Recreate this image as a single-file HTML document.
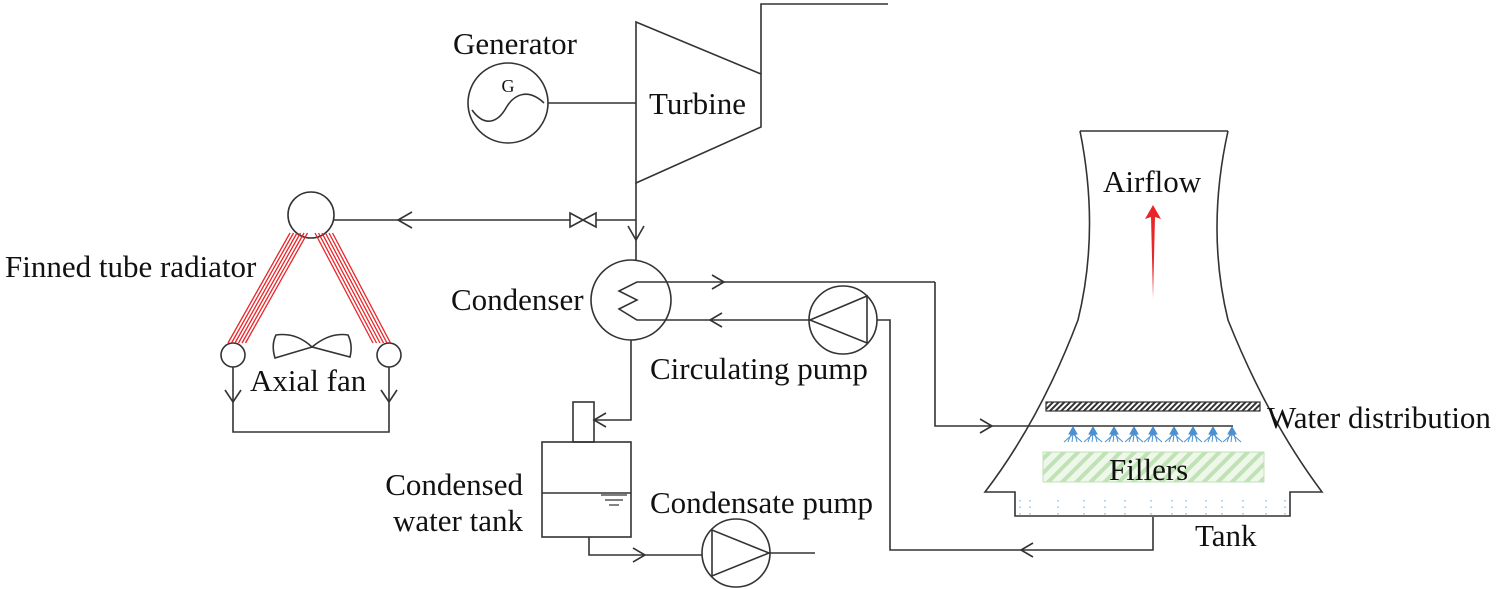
<!DOCTYPE html>
<html><head><meta charset="utf-8"><style>
html,body{margin:0;padding:0;background:#fff;}
svg{display:block;font-family:"Liberation Serif",serif;}
</style></head><body>
<svg width="1500" height="589" viewBox="0 0 1500 589" xmlns="http://www.w3.org/2000/svg">
<defs>
<pattern id="hd" width="4" height="4" patternUnits="userSpaceOnUse" patternTransform="rotate(45)"><rect width="4" height="4" fill="#fff"/><rect width="2" height="4" fill="#333"/></pattern>
<pattern id="hg" width="10" height="10" patternUnits="userSpaceOnUse" patternTransform="rotate(45)"><rect width="10" height="10" fill="#eef7ea"/><rect width="4" height="10" fill="#bfe3b4"/></pattern>
</defs>
<g fill="none" stroke="#333" stroke-width="1.6">
<circle cx="508" cy="103" r="40"/>
<path d="M472,110 C485,128 498,122 506,108 C514,94 528,88 544,103"/>
<line x1="548" y1="103" x2="636" y2="103"/>
<path d="M636,22 L761,74 L761,127 L636,183 Z"/>
<path d="M761,74 L761,4 L888,4"/>
<line x1="636" y1="183" x2="636" y2="260"/>
<path d="M628,226 L636,240 L644,226"/>
<line x1="334" y1="220" x2="636" y2="220"/>
<path d="M570,213 L570,227 L596,213 L596,227 Z" fill="#fff"/>
<path d="M412,212 L398,220 L412,228"/>
<circle cx="311" cy="215" r="23"/>
<circle cx="233" cy="355" r="12"/>
<circle cx="389" cy="355" r="12"/>
<path d="M233,367 L233,432 L389,432 L389,367"/>
<path d="M225,390 L233,402 L241,390"/>
<path d="M381,390 L389,402 L397,390"/>
<path d="M312,347 L275,358 Q271,345 276,335 Q296,332 312,347 Q330,332 348,335 Q353,345 350,357 Z"/>
<circle cx="631" cy="300" r="40"/>
<path d="M935,282 L637,282 L619,291 L637,300 L619,309 L637,320 L810,320"/>
<path d="M712,275 L724,282 L712,289"/>
<path d="M722,313 L710,320 L722,327"/>
<path d="M935,282 L935,426 L1233,426"/>
<path d="M980,419 L992,426 L980,433"/>
<circle cx="843" cy="320" r="34"/>
<path d="M810,320 L867,296 L867,343 Z"/>
<path d="M877,320 L890,320 L890,550 L1153,550 L1153,517"/>
<path d="M1033,543 L1021,550 L1033,557"/>
<path d="M631,340 L631,420 L594,420"/>
<path d="M606,413 L594,420 L606,427"/>
<rect x="573" y="402" width="21" height="40"/>
<rect x="542" y="442" width="89" height="95"/>
<line x1="542" y1="493" x2="631" y2="493"/>
<line x1="601" y1="495" x2="627" y2="495" stroke-width="1.2"/>
<line x1="605" y1="500" x2="623" y2="500" stroke-width="1.2"/>
<line x1="609" y1="505" x2="619" y2="505" stroke-width="1.2"/>
<path d="M589,537 L589,555 L702,555"/>
<path d="M633,548 L645,555 L633,562"/>
<circle cx="736" cy="553" r="34"/>
<path d="M712,530 L712,576 L769,553 Z"/>
<line x1="769" y1="553" x2="815" y2="553"/>
<line x1="1080" y1="131" x2="1228" y2="131"/>
<path d="M1080,131 Q1100,230 1078,320 Q1040,420 985,492 L1015,492 L1015,516 L1290,516 L1290,492 L1322,492 Q1268,420 1228,320 Q1206,230 1228,131"/>
</g>
<g stroke="#e8262a" stroke-width="1.3">
<line x1="290" y1="233" x2="228" y2="343"/><line x1="293.5" y1="233" x2="231.5" y2="343"/><line x1="297" y1="233" x2="235" y2="343"/><line x1="300.5" y1="233" x2="238.5" y2="343"/><line x1="304" y1="233" x2="242" y2="343"/><line x1="307.5" y1="233" x2="245.5" y2="343"/>
<line x1="315" y1="233" x2="373" y2="343"/><line x1="318.5" y1="233" x2="376.5" y2="343"/><line x1="322" y1="233" x2="380" y2="343"/><line x1="325.5" y1="233" x2="383.5" y2="343"/><line x1="329" y1="233" x2="387" y2="343"/><line x1="332.5" y1="233" x2="390.5" y2="343"/>
</g>
<path d="M1153,205 L1145,219 L1151,217 L1153,298 L1155,217 L1161,219 Z" fill="#e8262a"/>
<rect x="1046" y="402" width="214" height="9" fill="url(#hd)" stroke="#333" stroke-width="1.2"/>
<g stroke="#4a8fd0" stroke-width="1" fill="#4a8fd0">
<g id="sp"><path d="M1073,427 L1069,434 L1077,434 Z"/><path d="M1073,434 L1064,442 M1071,434 L1068,442 M1073,434 L1072,442 M1075,434 L1077,442 M1073,434 L1082,442" fill="none"/></g>
<use href="#sp" x="20"/><use href="#sp" x="41"/><use href="#sp" x="61"/><use href="#sp" x="80"/><use href="#sp" x="101"/><use href="#sp" x="120"/><use href="#sp" x="140"/><use href="#sp" x="159"/>
</g>
<rect x="1043" y="452" width="221" height="30" fill="url(#hg)" stroke="#bfe3b4" stroke-width="1"/>
<g stroke="#7ccbe6" stroke-width="1.5" stroke-dasharray="1.5 5">
<line x1="1020" y1="500" x2="1020" y2="515"/><line x1="1030" y1="500" x2="1030" y2="515"/><line x1="1058" y1="500" x2="1058" y2="515"/><line x1="1084" y1="500" x2="1084" y2="515"/><line x1="1105" y1="500" x2="1105" y2="515"/><line x1="1125" y1="500" x2="1125" y2="515"/><line x1="1151" y1="500" x2="1151" y2="515"/><line x1="1172" y1="500" x2="1172" y2="515"/><line x1="1186" y1="500" x2="1186" y2="515"/><line x1="1206" y1="500" x2="1206" y2="515"/><line x1="1222" y1="500" x2="1222" y2="515"/><line x1="1243" y1="500" x2="1243" y2="515"/><line x1="1266" y1="500" x2="1266" y2="515"/><line x1="1285" y1="500" x2="1285" y2="515"/>
</g>
<g fill="#111" font-size="31">
<text x="453" y="54">Generator</text>
<text x="508" y="92" font-size="18" text-anchor="middle">G</text>
<text x="649" y="114">Turbine</text>
<text x="5" y="277">Finned tube radiator</text>
<text x="250" y="391">Axial fan</text>
<text x="451" y="310">Condenser</text>
<text x="650" y="379">Circulating pump</text>
<text x="650" y="513">Condensate pump</text>
<text x="523" y="495" text-anchor="end">Condensed</text>
<text x="523" y="531" text-anchor="end">water tank</text>
<text x="1103" y="192">Airflow</text>
<text x="1267" y="428">Water distribution</text>
<text x="1109" y="480">Fillers</text>
<text x="1195" y="546">Tank</text>
</g>
</svg>
</body></html>
